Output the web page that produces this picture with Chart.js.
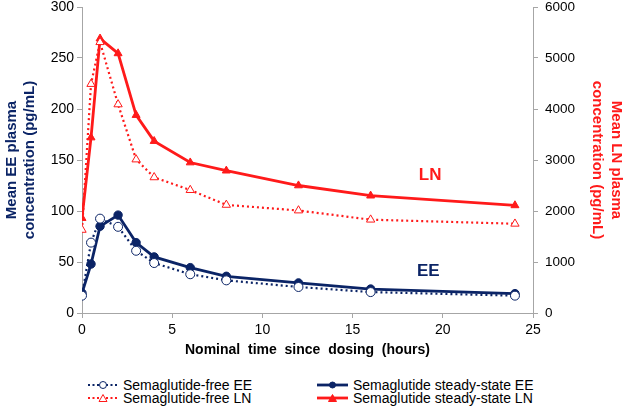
<!DOCTYPE html>
<html>
<head>
<meta charset="utf-8">
<script src="https://cdn.jsdelivr.net/npm/chart.js@4/dist/chart.umd.min.js"></script>
<style>
  body { margin: 0; background: #fff; font-family: "Liberation Sans", Arial, sans-serif; }
  #wrap { position: relative; width: 623px; height: 409px; overflow: hidden; }
  #chartBox { position: absolute; left: 0; top: 0; width: 623px; height: 369px; }
  .legend { position: absolute; font-size: 14px; line-height: 14px; color: #000; display: flex; align-items: center; }
  .legend svg { margin-right: 4px; }
</style>
</head>
<body>
<div id="wrap">
  <div id="chartBox"><canvas id="pkChart"></canvas></div>
  <div class="legend" style="left:87px;top:378px;"><svg width="32" height="12" id="lg1"></svg>Semaglutide-free EE</div>
  <div class="legend" style="left:87px;top:391px;"><svg width="32" height="12" id="lg2"></svg>Semaglutide-free LN</div>
  <div class="legend" style="left:316px;top:378px;"><svg width="33" height="12" id="lg3"></svg>Semaglutide steady-state EE</div>
  <div class="legend" style="left:316px;top:391px;"><svg width="33" height="12" id="lg4"></svg>Semaglutide steady-state LN</div>
</div>
<script>
// nominal time (hours)
const hours = [0, 0.5, 1, 2, 3, 4, 6, 8, 12, 16, 24];
// EE (pg/mL) - left axis
const freeEE = [17, 69, 92.5, 84.5, 61, 49, 38, 32, 25.5, 20.5, 17];
const steadyEE = [19.5, 48, 85, 96, 69, 55, 44.5, 36, 29.5, 23.5, 19];
// LN (pg/mL) - right axis
const freeLN = [1630, 4490, 5310, 4090, 3010, 2660, 2410, 2120, 2010, 1830, 1750];
const steadyLN = [1860, 3440, 5380, 5090, 3880, 3370, 2950, 2790, 2500, 2300, 2110];

const xTicks = [0, 5, 10, 15, 20, 25];
const eeTicks = [0, 50, 100, 150, 200, 250, 300];
const lnTicks = [0, 1000, 2000, 3000, 4000, 5000, 6000];

const navy = '#0b2466';
const red = '#ff1a1a';
const axisGrey = '#a6a6a6';

function pts(ys) {
    return hours.map(function(h, i) { return { x: h, y: ys[i] }; });
}

// series labels inside the plot, anchored at data positions
const seriesLabels = {
    id: 'seriesLabels',
    afterDatasetsDraw(chart) {
        const ctx = chart.ctx;
        const x = chart.scales.x;
        ctx.save();
        ctx.font = 'bold 17px "Liberation Sans", Arial, sans-serif';
        ctx.textAlign = 'center';
        ctx.textBaseline = 'middle';
        ctx.fillStyle = red;
        ctx.fillText('LN', x.getPixelForValue(19.3), chart.scales.yLN.getPixelForValue(2700));
        ctx.fillStyle = navy;
        ctx.fillText('EE', x.getPixelForValue(19.2), chart.scales.yEE.getPixelForValue(41));
        ctx.restore();
    }
};

// fixed axis sizes so the plot area lines up with the original
function fixWidth(w) {
    return function(s) { s.width = w; s.paddingTop = 0; s.paddingBottom = 0; };
}

const fam = '"Liberation Sans", Arial, sans-serif';
const tickFont = { family: fam, size: 14 };
const titleFont = { family: fam, size: 14, weight: 'bold' };
const plain = function(v) { return String(v); };

new Chart(document.getElementById('pkChart').getContext('2d'), {
    type: 'line',
    data: {
        datasets: [
            {
                label: 'Semaglutide-free EE', data: pts(freeEE), yAxisID: 'yEE',
                borderColor: navy, borderWidth: 2.2, borderDash: [2, 3],
                pointStyle: 'circle', pointRadius: 4.5, pointBackgroundColor: '#fff',
                pointBorderColor: navy, pointBorderWidth: 1
            },
            {
                label: 'Semaglutide steady-state EE', data: pts(steadyEE), yAxisID: 'yEE',
                borderColor: navy, borderWidth: 2.8,
                pointStyle: 'circle', pointRadius: 4.2, pointBackgroundColor: navy,
                pointBorderColor: navy, pointBorderWidth: 1
            },
            {
                label: 'Semaglutide-free LN', data: pts(freeLN), yAxisID: 'yLN',
                borderColor: red, borderWidth: 2.2, borderDash: [2, 3],
                pointStyle: 'triangle', pointRadius: 4.8, pointBackgroundColor: '#fff',
                pointBorderColor: red, pointBorderWidth: 1
            },
            {
                label: 'Semaglutide steady-state LN', data: pts(steadyLN), yAxisID: 'yLN',
                borderColor: red, borderWidth: 2.8,
                pointStyle: 'triangle', pointRadius: 4.6, pointBackgroundColor: red,
                pointBorderColor: red, pointBorderWidth: 1
            }
        ]
    },
    options: {
        responsive: true,
        maintainAspectRatio: false,
        animation: false,
        layout: { padding: { left: 0, right: 0, top: 7, bottom: 0 } },
        plugins: { legend: { display: false }, tooltip: { enabled: false } },
        scales: {
            x: {
                type: 'linear', min: 0, max: 25,
                afterBuildTicks: function(s) { s.ticks = xTicks.map(function(v) { return { value: v }; }); },
                afterFit: function(s) { s.height = 56; },
                grid: { drawOnChartArea: false, tickLength: 5, color: axisGrey },
                border: { color: axisGrey, width: 1 },
                ticks: { color: '#000', font: tickFont, padding: 4, callback: plain },
                title: { display: true, text: 'Nominal  time  since  dosing  (hours)', color: '#000', font: titleFont, padding: { top: 4, bottom: 10 } }
            },
            yEE: {
                position: 'left', min: 0, max: 300,
                afterBuildTicks: function(s) { s.ticks = eeTicks.map(function(v) { return { value: v }; }); },
                afterFit: fixWidth(82),
                grid: { drawOnChartArea: false, tickLength: 5, color: axisGrey },
                border: { color: axisGrey, width: 1 },
                ticks: { color: '#000', font: tickFont, padding: 3, callback: plain },
                title: { display: true, text: ['Mean EE plasma', 'concentration (pg/mL)'], color: navy, font: { family: fam, size: 15, weight: 'bold' }, padding: { top: 3, bottom: 10 } }
            },
            yLN: {
                position: 'right', min: 0, max: 6000,
                afterBuildTicks: function(s) { s.ticks = lnTicks.map(function(v) { return { value: v }; }); },
                afterFit: fixWidth(90),
                grid: { drawOnChartArea: false, tickLength: 5, color: axisGrey },
                border: { color: axisGrey, width: 1 },
                ticks: { color: '#000', font: { family: fam, size: 13.5 }, padding: 7, callback: plain },
                title: { display: true, text: ['Mean LN plasma', 'concentration (pg/mL)'], color: red, font: { family: fam, size: 15, weight: 'bold', lineHeight: 1.3 }, padding: { top: -3, bottom: 0 } }
            }
        }
    },
    plugins: [seriesLabels]
});

// legend samples
function sample(id, w, color, dash, marker, filled) {
    const svg = document.getElementById(id);
    const ns = 'http://www.w3.org/2000/svg';
    const line = document.createElementNS(ns, 'line');
    line.setAttribute('x1', 1); line.setAttribute('x2', w - 1);
    line.setAttribute('y1', 6); line.setAttribute('y2', 6);
    line.setAttribute('stroke', color);
    line.setAttribute('stroke-width', dash ? 2 : 2.8);
    if (dash) line.setAttribute('stroke-dasharray', '2 2.5');
    svg.appendChild(line);
    const cx = w / 2;
    let m;
    if (marker === 'circle') {
        m = document.createElementNS(ns, 'circle');
        m.setAttribute('cx', cx); m.setAttribute('cy', 6); m.setAttribute('r', filled ? 3 : 3.5);
    } else {
        m = document.createElementNS(ns, 'polygon');
        m.setAttribute('points', (cx - 4) + ',9.5 ' + (cx + 4) + ',9.5 ' + cx + ',2.5');
    }
    m.setAttribute('fill', filled ? color : '#fff');
    m.setAttribute('stroke', color);
    m.setAttribute('stroke-width', 1);
    svg.appendChild(m);
}
sample('lg1', 32, navy, true, 'circle', false);
sample('lg2', 32, red, true, 'triangle', false);
sample('lg3', 33, navy, false, 'circle', true);
sample('lg4', 33, red, false, 'triangle', true);
</script>
</body>
</html>
